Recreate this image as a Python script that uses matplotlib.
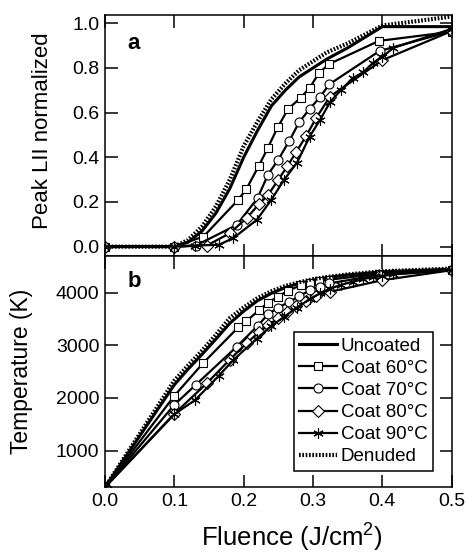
import matplotlib
matplotlib.use("Agg")
import matplotlib.pyplot as plt

plt.rcParams['font.family'] = ['Liberation Sans', 'DejaVu Sans']
plt.rcParams['mathtext.fontset'] = 'custom'
plt.rcParams['mathtext.rm'] = 'Liberation Sans'

# --- data ---
# fluence grids (J/cm^2)
x_ref = [0, 0.1, 0.12, 0.14, 0.16, 0.18, 0.2, 0.22, 0.24, 0.26, 0.28, 0.3, 0.32, 0.35, 0.4, 0.5]
x_60 = [0, 0.1, 0.142, 0.192, 0.204, 0.222, 0.235, 0.249, 0.264, 0.282, 0.295, 0.309, 0.3235, 0.395, 0.5]
x_70 = [0, 0.1, 0.131, 0.19, 0.22, 0.235, 0.25, 0.266, 0.28, 0.295, 0.31, 0.3235, 0.396, 0.5]
x_80 = [0, 0.1, 0.147, 0.18, 0.205, 0.222, 0.235, 0.25, 0.263, 0.276, 0.29, 0.305, 0.3245, 0.4, 0.5]
x_90 = [0, 0.1, 0.13, 0.164, 0.185, 0.219, 0.24, 0.258, 0.277, 0.295, 0.31, 0.325, 0.34, 0.357,
        0.372, 0.387, 0.40, 0.416, 0.5]

# panel a: peak LII normalized
lii_uncoated = [0, 0, 0.02, 0.07, 0.15, 0.26, 0.40, 0.52, 0.63, 0.70, 0.76, 0.80, 0.84, 0.89, 0.985, 0.985]
lii_denuded = [0, 0, 0.03, 0.09, 0.18, 0.30, 0.45, 0.56, 0.66, 0.73, 0.79, 0.83, 0.87, 0.91, 0.99, 1.03]
lii_60 = [0, 0, 0.045, 0.209, 0.258, 0.363, 0.443, 0.534, 0.616, 0.666, 0.71, 0.779, 0.818, 0.921, 0.962]
lii_70 = [0, 0, 0.005, 0.097, 0.217, 0.322, 0.39, 0.4745, 0.557, 0.616, 0.669, 0.727, 0.876, 0.965]
lii_80 = [0, 0, 0.005, 0.06, 0.13, 0.19, 0.23, 0.30, 0.36, 0.425, 0.495, 0.578, 0.672, 0.835, 0.965]
lii_90 = [0, 0, 0.005, 0.008, 0.038, 0.12, 0.21, 0.298, 0.376, 0.492, 0.567, 0.649, 0.70, 0.754,
          0.78, 0.824, 0.85, 0.89, 0.975]

# panel b: temperature (K)
t_uncoated = [300, 2250, 2550, 2830, 3120, 3420, 3650, 3850, 3990, 4100, 4180, 4240, 4290, 4340, 4400, 4450]
t_denuded = [300, 2330, 2620, 2900, 3200, 3520, 3720, 3900, 4030, 4130, 4200, 4260, 4300, 4350, 4410, 4460]
t_60 = [300, 2040, 2670, 3340, 3460, 3670, 3810, 3925, 4040, 4140, 4180, 4220, 4250, 4360, 4430]
t_70 = [300, 1870, 2250, 2975, 3370, 3590, 3720, 3830, 3930, 4050, 4115, 4180, 4340, 4430]
t_80 = [300, 1700, 2280, 2730, 3050, 3250, 3380, 3520, 3640, 3740, 3840, 3930, 4020, 4240, 4430]
t_90 = [300, 1690, 1960, 2420, 2720, 3130, 3370, 3540, 3720, 3880, 3990, 4080, 4150, 4210,
        4260, 4300, 4320, 4350, 4430]

labels = ["Uncoated", "Coat 60°C", "Coat 70°C", "Coat 80°C", "Coat 90°C", "Denuded"]

fig = plt.figure(figsize=(4.66, 5.54), dpi=100)
ax_a = fig.add_axes([0.2253, 0.5379, 0.744, 0.435])
ax_b = fig.add_axes([0.2253, 0.1204, 0.744, 0.4175])

mk = dict(color="black", lw=1.6, mfc="white", mec="black", mew=0.8)


def draw(ax, ys):
    u, d, s60, s70, s80, s90 = ys
    ax.plot(x_ref, u, color="black", lw=2.2, label=labels[0])
    ax.plot(x_60, s60, marker="s", ms=5.5, label=labels[1], **mk)
    ax.plot(x_70, s70, marker="o", ms=6.5, label=labels[2], **mk)
    ax.plot(x_80, s80, marker="D", ms=6, label=labels[3], **mk)
    ax.plot(x_90, s90, marker=(6, 2, 0), ms=7.5, label=labels[4], **mk)
    ax.plot(x_ref, d, color="black", lw=3.0, ls=(0, (0.4, 0.4)), label=labels[5])


draw(ax_a, [lii_uncoated, lii_denuded, lii_60, lii_70, lii_80, lii_90])
draw(ax_b, [t_uncoated, t_denuded, t_60, t_70, t_80, t_90])

for ax in (ax_a, ax_b):
    ax.set_xlim(0, 0.5)
    ax.set_xticks([0, 0.1, 0.2, 0.3, 0.4, 0.5])
    ax.tick_params(direction="in", length=9, width=1.1, top=True, right=True,
                   labelsize=14, pad=4)
    for sp in ax.spines.values():
        sp.set_linewidth(1.1)

ax_a.set_ylim(-0.042, 1.037)
ax_a.set_yticks([0, 0.2, 0.4, 0.6, 0.8, 1.0])
ax_a.set_yticklabels(["0.0", "0.2", "0.4", "0.6", "0.8", "1.0"])
ax_a.tick_params(labelbottom=False)
ax_a.set_ylabel("Peak LII normalized", fontsize=16)
ax_a.yaxis.set_label_coords(-0.15, 0.52)
ax_a.text(0.065, 0.86, "a", transform=ax_a.transAxes, fontsize=16, fontweight="bold")

ax_b.set_ylim(300, 4700)
ax_b.set_yticks([1000, 2000, 3000, 4000])
ax_b.set_xticklabels(["0.0", "0.1", "0.2", "0.3", "0.4", "0.5"])
ax_b.set_ylabel("Temperature (K)", fontsize=16.5)
ax_b.yaxis.set_label_coords(-0.208, 0.5)
ax_b.set_xlabel("Fluence (J/cm$^2$)", fontsize=18.5)
ax_b.xaxis.set_label_coords(0.538, -0.14)
ax_b.text(0.065, 0.867, "b", transform=ax_b.transAxes, fontsize=16, fontweight="bold")

leg = ax_b.legend(loc="lower right", bbox_to_anchor=(0.946, 0.07), fontsize=13.5,
                  frameon=True, fancybox=False, edgecolor="black", framealpha=1,
                  handlelength=2.0, handletextpad=0.2, labelspacing=0.27,
                  borderpad=0.3, borderaxespad=0)
leg.get_frame().set_linewidth(1.1)

fig.savefig("out.png", dpi=100)
